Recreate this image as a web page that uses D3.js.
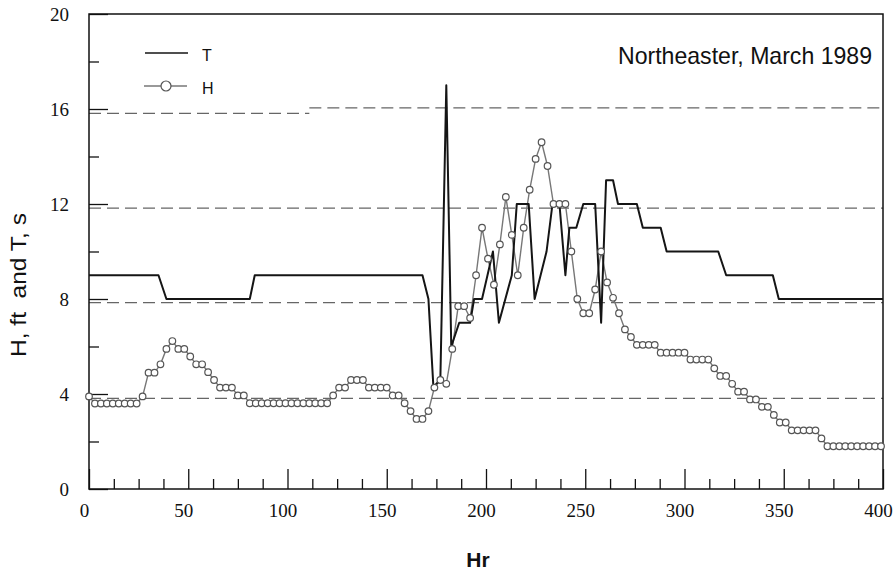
<!DOCTYPE html>
<html>
<head>
<meta charset="utf-8">
<script src="https://cdn.jsdelivr.net/npm/d3@7"></script>
<style>
  body { margin: 0; background: #fff; }
  svg { display: block; }
  .keep-spaces { white-space: pre; }
</style>
</head>
<body>
<svg id="chart" width="895" height="572"></svg>
<script>
// ---- Data ----
const chartTitle = "Northeaster, March 1989";
const xLabel = "Hr";
const yLabel = "H, ft  and T, s";
const xMajorTicks = [0, 50, 100, 150, 200, 250, 300, 350, 400];
const yMajorTicks = [0, 4, 8, 12, 16, 20];
const seriesNames = ["T", "H"];

// Wave period T (s): hour / value at each break in the trace
const tHours  = [0, 35, 39, 81, 83.5, 168, 171, 173.5, 177, 180,
                 182.5, 186.5, 192, 194, 198, 203.5, 206.5, 213, 215.5, 221.5,
                 224.5, 230.5, 233.5, 237, 240, 242, 245.5, 249, 255, 258,
                 260.5, 264, 266.5, 276, 279, 288, 291, 317, 321, 344.5,
                 347.5, 400];
const tValues = [9, 9, 8, 8, 9, 9, 8, 4.3, 4.6, 17,
                 6, 7, 7, 8, 8, 10, 7, 9, 12, 12,
                 8, 10, 12, 12, 9, 11, 11, 12, 12, 7,
                 13, 13, 12, 12, 11, 11, 10, 10, 9, 9,
                 8, 8];

// Wave height H (ft), recorded every 3 hours starting at hour 0
const hIntervalHours = 3;
const hValues = [
  3.9, 3.6, 3.6, 3.6, 3.6, 3.6, 3.6, 3.6, 3.6, 3.9,          // 0-27
  4.9, 4.9, 5.25, 5.9, 6.23, 5.9, 5.9, 5.58, 5.25, 5.25,     // 30-57
  4.92, 4.59, 4.27, 4.27, 4.27, 3.94, 3.94, 3.61,            // 60-81
  3.61, 3.61, 3.61, 3.61, 3.61, 3.61, 3.61, 3.61, 3.61, 3.61, 3.61, 3.61, 3.61, // 84-120
  3.94, 4.27, 4.27, 4.59, 4.59, 4.59, 4.27, 4.27, 4.27, 4.27, // 123-150
  3.94, 3.94, 3.61, 3.28, 2.95, 2.95, 3.28, 4.27, 4.59, 4.43, // 153-180
  5.9, 7.7, 7.7, 7.2, 9.0, 11.0, 9.7, 8.6, 10.3, 12.3,       // 183-210
  10.7, 9.0, 11.0, 12.6, 13.9, 14.6, 13.6, 12.0, 12.0, 12.0, // 213-240
  10.0, 8.0, 7.4, 7.4, 8.4, 10.0, 8.7, 8.05, 7.4, 6.72,      // 243-270
  6.4, 6.07, 6.07, 6.07, 6.07, 5.74, 5.74, 5.74, 5.74, 5.74, // 273-300
  5.45, 5.45, 5.45, 5.45, 5.08, 4.76, 4.76, 4.43, 4.1, 4.1,  // 303-330
  3.77, 3.77, 3.46, 3.46, 3.12, 2.8, 2.8, 2.47, 2.47, 2.47,  // 333-360
  2.47, 2.47, 2.13, 1.8, 1.8, 1.8, 1.8, 1.8, 1.8, 1.8,       // 363-390
  1.8, 1.8, 1.8                                              // 393-399
];

// Dashed reference lines: level and hour span
const gridLevels = [3.82, 7.85, 11.83, 15.82, 16.05];
const gridStarts = [0, 0, 0, 0, 111];
const gridEnds   = [400, 400, 400, 111, 400];

// ---- Layout ----
const svg = d3.select("#chart");
const x = d3.scaleLinear().domain([0, 400]).range([89, 883]);
const y = d3.scaleLinear().domain([0, 20]).range([489, 14]);

const hPoints = hValues.map((v, i) => ({ hr: i * hIntervalHours, v }));
const tPoints = tHours.map((h, i) => ({ hr: h, v: tValues[i] }));

// dashed reference lines
svg.append("g").selectAll("line")
  .data(gridLevels)
  .join("line")
  .attr("x1", (d, i) => x(gridStarts[i]))
  .attr("x2", (d, i) => x(gridEnds[i]))
  .attr("y1", d => y(d))
  .attr("y2", d => y(d))
  .attr("stroke", "#666")
  .attr("stroke-width", 1.2)
  .attr("stroke-dasharray", "12,6");

// axes: ticks point inward
const xMinor = d3.range(0, 401, 12.5).filter(v => v % 50 !== 0);
svg.append("g")
  .attr("transform", `translate(0,${y(0)})`)
  .call(d3.axisBottom(x).tickValues(xMinor).tickSize(-10).tickFormat(""))
  .call(g => g.select(".domain").remove());
const xAxis = svg.append("g")
  .attr("transform", `translate(0,${y(0)})`)
  .call(d3.axisBottom(x).tickValues(xMajorTicks).tickSize(-20).tickPadding(15).tickFormat(d3.format("d")));
xAxis.select(".domain").remove();
xAxis.selectAll("text").attr("dx", -5);

const yMinor = [2, 6, 10, 14, 18];
svg.append("g")
  .attr("transform", `translate(${x(0)},0)`)
  .call(d3.axisLeft(y).tickValues(yMinor).tickSize(-10).tickFormat(""))
  .call(g => g.select(".domain").remove());
const yAxis = svg.append("g")
  .attr("transform", `translate(${x(0)},0)`)
  .call(d3.axisLeft(y).tickValues(yMajorTicks).tickSize(-19).tickPadding(20).tickFormat(d3.format("d")));
yAxis.select(".domain").remove();

svg.selectAll(".tick line").attr("stroke", "#111").attr("stroke-width", 1.3);
svg.selectAll(".tick text")
  .attr("font-family", "'Liberation Serif', 'Times New Roman', serif")
  .attr("font-size", 19)
  .attr("fill", "#111");

// plot frame
svg.append("rect")
  .attr("x", x(0)).attr("y", y(20))
  .attr("width", x(400) - x(0)).attr("height", y(0) - y(20))
  .attr("fill", "none").attr("stroke", "#111").attr("stroke-width", 1.5);

// H series: gray line with open circles
const line = d3.line().x(d => x(d.hr)).y(d => y(d.v));
svg.append("path")
  .datum(hPoints)
  .attr("d", line)
  .attr("fill", "none")
  .attr("stroke", "#777")
  .attr("stroke-width", 1.4);

// T series: black line
svg.append("path")
  .datum(tPoints)
  .attr("d", line)
  .attr("fill", "none")
  .attr("stroke", "#151515")
  .attr("stroke-width", 2)
  .attr("stroke-linejoin", "round");

svg.append("g").selectAll("circle")
  .data(hPoints)
  .join("circle")
  .attr("cx", d => x(d.hr))
  .attr("cy", d => y(d.v))
  .attr("r", 3.3)
  .attr("fill", "#fff")
  .attr("stroke", "#555")
  .attr("stroke-width", 1.2);

// legend
const legend = svg.append("g").attr("font-family", "'Liberation Sans', Arial, sans-serif");
legend.append("line").attr("x1", 145).attr("x2", 188).attr("y1", 53).attr("y2", 53)
  .attr("stroke", "#151515").attr("stroke-width", 1.6);
legend.append("text").attr("x", 202).attr("y", 61).attr("font-size", 16).attr("fill", "#111")
  .text(seriesNames[0]);
legend.append("line").attr("x1", 144).attr("x2", 187).attr("y1", 86).attr("y2", 86)
  .attr("stroke", "#777").attr("stroke-width", 1.4);
legend.append("circle").attr("cx", 166).attr("cy", 86).attr("r", 5)
  .attr("fill", "#fff").attr("stroke", "#555").attr("stroke-width", 1.2);
legend.append("text").attr("x", 202).attr("y", 94).attr("font-size", 16).attr("fill", "#111")
  .text(seriesNames[1]);

// title inside plot
svg.append("text")
  .attr("x", 618).attr("y", 64)
  .attr("font-family", "'Liberation Sans', Arial, sans-serif")
  .attr("font-size", 24)
  .attr("textLength", 254)
  .attr("lengthAdjust", "spacingAndGlyphs")
  .attr("fill", "#111")
  .text(chartTitle);

// axis titles
svg.append("text")
  .attr("x", 478).attr("y", 567)
  .attr("text-anchor", "middle")
  .attr("font-family", "'Liberation Sans', Arial, sans-serif")
  .attr("font-size", 21)
  .attr("font-weight", "bold")
  .attr("fill", "#111")
  .text(xLabel);

svg.append("text")
  .attr("class", "keep-spaces")
  .attr("transform", "translate(26,285) rotate(-90)")
  .attr("x", -72).attr("y", 0)
  .attr("font-family", "'Liberation Sans', Arial, sans-serif")
  .attr("font-size", 22)
  .attr("textLength", 144)
  .attr("lengthAdjust", "spacingAndGlyphs")
  .attr("fill", "#111")
  .text(yLabel);
</script>
</body>
</html>
